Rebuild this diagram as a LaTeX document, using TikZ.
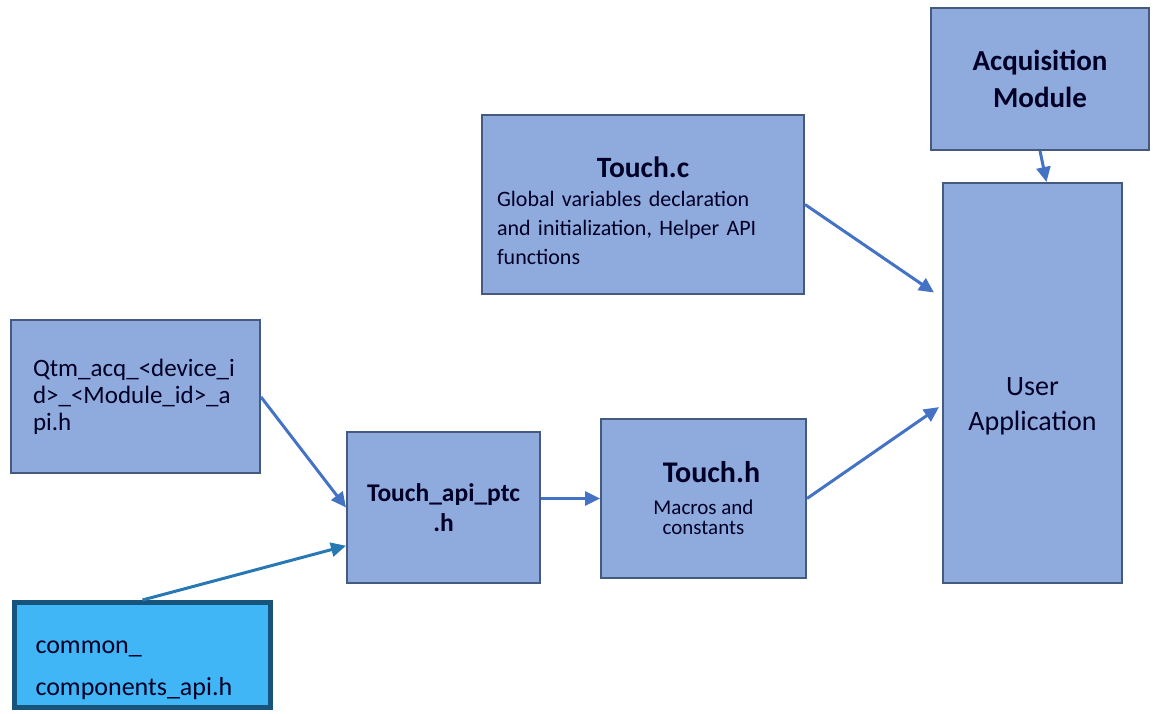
\documentclass[tikz,border=0pt]{standalone}
\usepackage{fontspec}
\setmainfont{Carlito}
\usepackage{xcolor}
\usetikzlibrary{arrows.meta,positioning,calc}
\definecolor{boxfill}{RGB}{143,170,220}
\definecolor{boxline}{RGB}{68,90,128}
\definecolor{arrblue}{RGB}{68,114,196}
\definecolor{cyanfill}{RGB}{64,182,246}
\definecolor{cyanline}{RGB}{22,84,124}
\definecolor{cyanarr}{RGB}{40,120,180}

\begin{document}
\begin{tikzpicture}[
    x=1pt,y=1pt,
    box/.style={draw=boxline,line width=2pt,fill=boxfill,inner sep=0pt,
      align=center,text=black!85!blue},
    arr/.style={-{Triangle[length=15pt,width=14pt]},line width=3pt,draw=arrblue}
  ]
    \useasboundingbox (0,0) rectangle (1153,714);
    \node[box,minimum width=249pt,minimum height=153pt,align=left,
      text width=205pt,font=\fontsize{25}{27}\selectfont] (qtm) at (135.5,317)
      {Qtm\_acq\_<device\_i\\d>\_<Module\_id>\_a\\pi.h};
    \node[box,draw=cyanline,line width=5pt,fill=cyanfill,minimum width=256pt,
      minimum height=105pt,align=left,text width=214pt,
      font=\fontsize{26}{42}\selectfont] (common) at (142.5,59)
      {\rule{0pt}{44pt}common\_\\components\_api.h};
    \node[box,minimum width=193pt,minimum height=151pt,
      font=\fontsize{25.5}{30}\selectfont\bfseries] (api) at (443.5,206.5)
      {Touch\_api\_ptc\\.h};
    \node[box,minimum width=205pt,minimum height=159pt,
      font=\fontsize{21}{20}\selectfont] (touchh) at (703.5,215.5)
      {\hspace*{16pt}{\fontsize{30}{30}\selectfont\bfseries Touch.h}\\[12pt]Macros and\\constants};
    \node[box,minimum width=322pt,minimum height=179pt,align=left,
      text width=292pt,font=\fontsize{22}{29}\selectfont] (touchc) at (643,509.5)
      {\rule{0pt}{34pt}\hfill{\fontsize{29.5}{30}\selectfont\bfseries Touch.c}\hfill\null\\
       Global variables declaration\\and initialization, Helper API\\functions};
    \node[box,minimum width=218pt,minimum height=142pt,
      font=\fontsize{29}{37}\selectfont\bfseries] (acq) at (1040,635)
      {Acquisition\\Module};
    \node[box,minimum width=179pt,minimum height=400pt,
      font=\fontsize{28}{35}\selectfont] (user) at (1032.5,331)
      {\mbox{}\\[29pt]User\\Application};

    \draw[arr] (qtm.east) -- (api.west);
    \draw[arr,draw=cyanarr] (common.north)
      -- ($(api.south west)!0.25!(api.north west)$);
    \draw[arr] (touchh.west -| api.east) -- (touchh.west);
    \draw[arr] (touchc.east)
      -- ($(user.north west)!0.275!(user.south west)+(-8,0)$);
    \draw[arr] (touchh.east)
      -- ($(user.north west)!0.56!(user.south west)+(-3,0)$);
    \draw[arr] (acq.south) -- ($(user.north)+(14,0)$);
  \end{tikzpicture}
\end{document}
